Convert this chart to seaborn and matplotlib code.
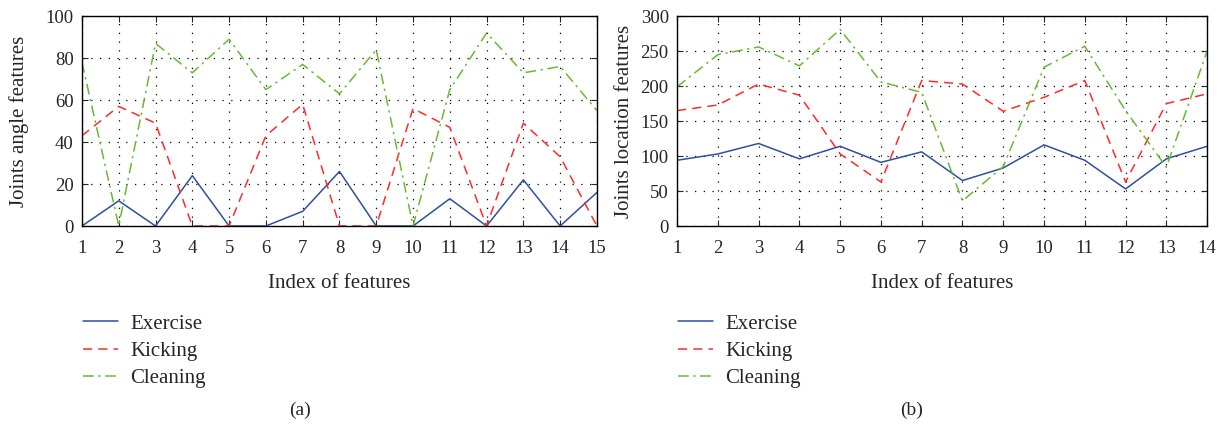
import pandas as pd
import seaborn as sns
import matplotlib.pyplot as plt

sns.set_theme(style='ticks')
plt.rcParams['font.family'] = ['Liberation Serif', 'DejaVu Serif']

# panel (a): joints angle features
idx_a = list(range(1, 16))
exercise_a = [0, 12, 0, 24, 0, 0, 7, 26, 0, 0, 13, 0, 22, 0, 16]
kicking_a = [43, 57, 49, 0, 0, 43, 58, 0, 0, 56, 47, 0, 49, 33, 0]
cleaning_a = [78, 0, 87, 73, 89, 65, 77, 63, 84, 0, 65, 92, 73, 76, 55]

# panel (b): joints location features
idx_b = list(range(1, 15))
exercise_b = [94, 103, 118, 96, 114, 91, 106, 65, 83, 116, 94, 53, 96, 114]
kicking_b = [165, 173, 203, 187, 103, 63, 208, 203, 164, 184, 208, 63, 175, 189]
cleaning_b = [199, 245, 256, 229, 281, 206, 191, 36, 85, 227, 257, 165, 84, 250]

series = ['Exercise', 'Kicking', 'Cleaning']
colors = {'Exercise': '#2f4f9f', 'Kicking': '#ff2a2a', 'Cleaning': '#66bb33'}
styles = {'Exercise': '-', 'Kicking': (0, (6, 4)), 'Cleaning': (0, (7, 3, 1.5, 3))}

fig = plt.figure(figsize=(12.27, 4.30), dpi=100)
ax1 = fig.add_axes([0.0668, 0.4744, 0.4197, 0.488])
ax2 = fig.add_axes([0.5518, 0.4744, 0.4320, 0.488])


def draw(ax, idx, vals, ylabel, ymax, ystep, pad):
    for name, v in zip(series, vals):
        df = pd.DataFrame({'x': idx, 'y': v})
        sns.lineplot(data=df, x='x', y='y', ax=ax, color=colors[name],
                     linestyle=styles[name], linewidth=1.1, label=name)
    ax.set_xlim(idx[0], idx[-1])
    ax.set_ylim(0, ymax)
    ax.set_xticks(idx)
    ax.set_yticks(range(0, ymax + 1, ystep))
    ax.grid(True, color='black', linestyle=(0, (1, 6)), linewidth=0.9)
    ax.tick_params(direction='in', top=True, right=True, labelsize=13.5,
                   length=4, width=0.8, pad=6)
    ax.tick_params(axis='x', pad=10)
    for s in ax.spines.values():
        s.set_visible(True)
        s.set_linewidth(1.0)
        s.set_color('black')
    ax.set_xlabel('Index of features', fontsize=15, labelpad=12)
    ax.set_ylabel(ylabel, fontsize=15, labelpad=pad)
    handles, labels = ax.get_legend_handles_labels()
    ax.get_legend().remove()
    return handles, labels


leg_kw = dict(loc='upper left', frameon=False, fontsize=15, handlelength=1.7,
              labelspacing=0.37, handletextpad=0.6)

h, l = draw(ax1, idx_a, [exercise_a, kicking_a, cleaning_a],
            'Joints angle features', 100, 20, 12)
fig.legend(h, l, bbox_to_anchor=(0.052, 0.313), **leg_kw)
h, l = draw(ax2, idx_b, [exercise_b, kicking_b, cleaning_b],
            'Joints location features', 300, 50, 5)
fig.legend(h, l, bbox_to_anchor=(0.537, 0.313), **leg_kw)

fig.text(300 / 1227, 1 - 410 / 430, '(a)', ha='center', va='center', fontsize=14)
fig.text(912 / 1227, 1 - 410 / 430, '(b)', ha='center', va='center', fontsize=14)

plt.savefig('out.png', dpi=100)
